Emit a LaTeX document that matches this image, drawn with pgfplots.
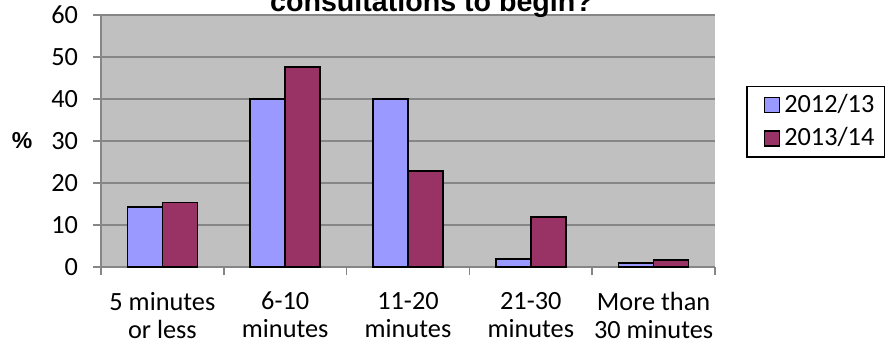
\documentclass[border=0pt]{standalone}
\usepackage{fontspec}
\setmainfont{Carlito}
\newfontfamily\arialfont{Liberation Sans}
\usepackage{pgfplots}
\pgfplotsset{compat=1.18}
\definecolor{barblue}{HTML}{9999FF}
\definecolor{barpurple}{HTML}{993366}
\definecolor{plotbg}{HTML}{C0C0C0}
\definecolor{gridgray}{HTML}{868686}
\newcommand{\tickfont}{\fontsize{13.15}{14}\selectfont}
\begin{document}
\begin{tikzpicture}
\path[use as bounding box] (0,0) rectangle (445pt,175pt);
\begin{axis}[
  at={(50.5pt,41.5pt)}, anchor=south west,
  scale only axis, width=307pt, height=126pt,
  ybar=0pt, bar width=0.285,
  xmin=-0.5, xmax=4.5, ymin=0, ymax=60,
  axis background/.style={fill=plotbg},
  axis x line*=bottom, axis y line*=left,
  axis line style={gridgray, line width=0.75pt},
  ytick={0,10,...,60},
  ymajorgrids, grid style={gridgray, line width=0.75pt},
  xtick={0,1,2,3,4},
  xticklabels={{5 minutes\\or less},{6-10\\minutes},{11-20\\minutes},{21-30\\minutes},{More than\\30 minutes}},
  minor xtick={-0.5,0.5,1.5,2.5,3.5,4.5},
  tick align=outside,
  major x tick style={draw=none},
  minor x tick style={gridgray, line width=0.75pt},
  major y tick style={gridgray, line width=0.75pt},
  minor tick length=4pt, major tick length=4pt,
  /pgf/number format/assume math mode=true,
  tick label style={font=\tickfont},
  yticklabel style={anchor=east, xshift=-4pt},
  xticklabel style={align=center, anchor=north, yshift=-5pt},
  ylabel={\%},
  every axis y label/.style={at={(axis description cs:-0.1287,0.5)}, anchor=center, font=\arialfont\bfseries\fontsize{11.5}{13}\selectfont},
  legend style={at={(axis description cs:1.0505,0.7194)}, anchor=north west, draw=black, line width=0.75pt, font=\tickfont, inner xsep=3pt, inner ysep=2pt, row sep=2pt},
  legend cell align=left,
]
\addplot[fill=barblue, draw=black, line width=0.8pt,
  legend image code/.code={\path (0pt,0pt); \draw[fill=barblue, draw=black, line width=0.7pt] (5.5pt,-3.75pt) rectangle (13pt,3.75pt);}]
  coordinates {(0,14.3) (1,40) (2,40) (3,1.9) (4,1.0)};
\addplot[fill=barpurple, draw=black, line width=0.8pt,
  legend image code/.code={\path (0pt,0pt); \draw[fill=barpurple, draw=black, line width=0.7pt] (5.5pt,-3.75pt) rectangle (13pt,3.75pt);}]
  coordinates {(0,15.4) (1,47.6) (2,22.9) (3,11.9) (4,1.6)};
\legend{2012/13,2013/14}
\end{axis}
\node[font=\arialfont\bfseries\fontsize{14.3}{17}\selectfont, anchor=base] at (215.75pt,169.5pt) {consultations to begin?};
\end{tikzpicture}
\end{document}
